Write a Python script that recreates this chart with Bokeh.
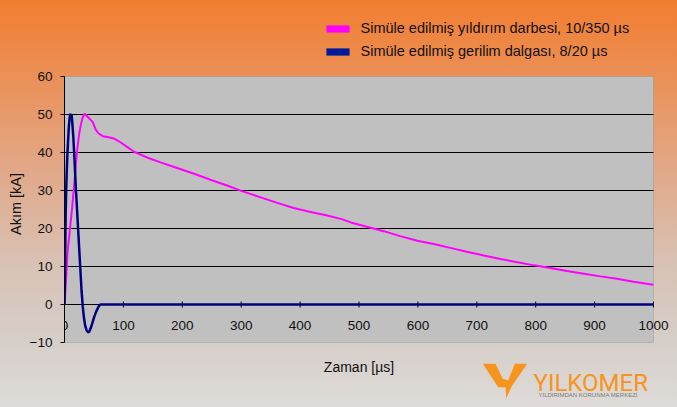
import math
from bokeh.plotting import figure
from bokeh.models import (Legend, LegendItem, Label, PolyAnnotation, BoxAnnotation,
                          FixedTicker, Range1d, Title)
from bokeh.core.properties import value
from bokeh.embed import file_html
from bokeh.resources import INLINE

# ---- data ----
t_10_350 = [0, 1, 3, 5, 8, 13, 17, 21, 25, 28, 31, 34, 38, 43, 48, 53, 58, 65, 75, 85, 95,
            105, 118, 140, 163, 190, 220, 250, 276, 300, 333, 360, 389, 420, 446, 472, 486,
            515, 542, 570, 599, 627, 655, 683, 712, 740, 769, 797, 825, 853, 882, 910, 938,
            966, 1000]
i_10_350 = [0, 2, 7.5, 13.5, 18, 25.5, 32.5, 40, 45, 47.5, 49.3, 50.2, 49.6, 48.8, 48, 46,
            45, 44.3, 44, 43.6, 42.7, 41.6, 40.2, 38.7, 37.4, 36, 34.4, 32.7, 31.3, 29.9,
            28.2, 26.8, 25.4, 24.3, 23.4, 22.4, 21.6, 20.4, 19.3, 18, 16.8, 15.9, 14.9, 13.9,
            12.9, 12, 11.1, 10.3, 9.6, 8.8, 8.1, 7.4, 6.8, 6, 5.2]

t_8_20 = [0, 1, 2, 3, 4.5, 6, 7.5, 9, 10, 11, 12, 13, 15, 17, 19.5, 22, 24.5, 27, 29, 31,
          33, 35, 37.5, 40, 42, 45, 48, 51, 54, 58, 61, 1000]
i_8_20 = [0, 10, 24, 31, 38, 43, 47, 49.5, 50.2, 49.5, 50, 48.4, 44, 38, 30, 23, 16, 9, 3.5,
          -0.5, -3.5, -5.5, -6.8, -7.3, -7.2, -6, -4.5, -3, -1.8, -0.5, 0, 0]

x_ticks = [0, 100, 200, 300, 400, 500, 600, 700, 800, 900, 1000]
x_tick_labels = ["0", "100", "200", "300", "400", "500", "600", "700", "800", "900", "1000"]
y_ticks = [-10, 0, 10, 20, 30, 40, 50, 60]
grid_ticks = [0, 10, 20, 30, 40, 50]
legend_labels = ["Simüle edilmiş yıldırım darbesi, 10/350 µs",
                 "Simüle edilmiş gerilim dalgası, 8/20 µs"]
x_title = "Zaman [µs]"
y_title = "Akım [kA]"
logo_title = "YILKOMER"
logo_sub = "YILDIRIMDAN KORUNMA MERKEZİ"

FONT = "Liberation Sans"
MAGENTA = "#FF00FF"
NAVY = "#000080"
ORANGE = "#F7941D"
TXT = "#111111"

W, H = 677, 407
LEFT = 64                      # y-axis panel width
PX_X = 589 / 1000.0            # px per µs
PX_Y = 38 / 10.0               # px per kA
ZERO_Y = 304                   # pixel row of 0 kA
y_top = ZERO_Y / PX_Y
y_bot = -(H - ZERO_Y) / PX_Y
x_end = (W - LEFT) / PX_X

p = figure(width=W, height=H, output_backend="svg", toolbar_location=None,
           x_range=Range1d(0, x_end), y_range=Range1d(y_bot, y_top),
           min_border_left=LEFT, min_border_right=0, min_border_top=0, min_border_bottom=0,
           background_fill_color=None, border_fill_color=None, outline_line_color=None)
p.margin = (0, 0, 0, 0)
p.styles = {"background": "linear-gradient(to bottom, #F27D30 0%, #EC8C4E 15%, #E2A685 40%, "
                          "#D8C2B5 65%, #D6CFCA 85%, #DEDBD8 100%)"}

# plot area
p.add_layout(BoxAnnotation(left=0, right=1000, bottom=-10, top=60, level="image",
                           fill_color="#C0C0C0", fill_alpha=1,
                           line_color="#808080", line_width=1))
p.xgrid.visible = False
p.ygrid.visible = False
p.segment(x0=[0] * len(grid_ticks), x1=[1000] * len(grid_ticks), y0=grid_ticks, y1=grid_ticks,
          line_color="black", line_width=1)

# y axis
p.yaxis.ticker = FixedTicker(ticks=y_ticks)
p.yaxis.bounds = (-10, 60)
p.yaxis.axis_line_color = "black"
p.yaxis.major_tick_line_color = "black"
p.yaxis.major_tick_out = 4
p.yaxis.major_tick_in = 0
p.yaxis.minor_tick_line_color = None
p.yaxis.major_label_standoff = 8
p.yaxis.major_label_text_font = FONT
p.yaxis.major_label_text_font_size = "13.5px"
p.yaxis.major_label_text_color = TXT
p.add_layout(Title(text=y_title, align="center", offset=-4.5, standoff=5,
                   text_font=FONT, text_font_size="14.5px", text_font_style="normal",
                   text_color=TXT), "left")

# x axis: drawn on the zero line
p.xaxis.visible = False
p.scatter(x=x_ticks, y=[0] * len(x_ticks), marker="dash", angle=math.pi / 2, size=6,
          line_color="black", line_width=1)
p.text(x=x_ticks, y=[0] * len(x_ticks), text=x_tick_labels, y_offset=21,
       text_align="center", text_baseline="middle", text_color=TXT,
       text_font=value(FONT), text_font_size="13.5px")
p.add_layout(Label(x=500, y=(ZERO_Y - 366) / PX_Y, text=x_title, text_align="center",
                   text_baseline="middle", text_font=FONT, text_font_size="14px",
                   text_color=TXT))

# series
p.line(t_10_350, i_10_350, line_color=MAGENTA, line_width=2)
p.line(t_8_20, i_8_20, line_color=NAVY, line_width=2.5)

# legend keys (filled blocks; zero-size quads at each series' first point)
k1 = p.quad(left=t_10_350[:1], right=t_10_350[:1], top=i_10_350[:1], bottom=i_10_350[:1],
            fill_color=MAGENTA, fill_alpha=1, line_color=None)
k2 = p.quad(left=t_8_20[:1], right=t_8_20[:1], top=i_8_20[:1], bottom=i_8_20[:1],
            fill_color="#001A99", fill_alpha=1, line_color=None)
legend = Legend(items=[LegendItem(label=legend_labels[0], renderers=[k1]),
                       LegendItem(label=legend_labels[1], renderers=[k2])],
                location=(322.5 - LEFT, H - 61), orientation="vertical",
                glyph_width=29, glyph_height=9, label_standoff=9, spacing=3,
                padding=0, margin=0, label_height=20,
                background_fill_alpha=0, border_line_color=None,
                label_text_font=FONT, label_text_font_size="14.5px",
                label_text_color=TXT)
p.add_layout(legend)

# logo
icon_x = [482.3, 495, 502.3, 507.7, 514.3, 526.7, 511.7, 505.7, 505, 497.7]
icon_y = [363.3, 363.3, 378.3, 380, 363.3, 363.3, 385, 397.7, 386.7, 386.7]
p.add_layout(PolyAnnotation(xs=[x - LEFT for x in icon_x], ys=[H - y for y in icon_y],
                            xs_units="screen", ys_units="screen",
                            fill_color=ORANGE, fill_alpha=1, line_color=None))
p.add_layout(Label(x=533 - LEFT, y=H - 382, x_units="screen", y_units="screen",
                   text=logo_title, text_font="Roboto", text_font_size="24px",
                   text_color=ORANGE, text_baseline="alphabetic"))
p.add_layout(Label(x=538 - LEFT, y=H - 394, x_units="screen", y_units="screen",
                   text=logo_sub, text_font=FONT, text_font_size="6px",
                   text_color="#7A7A7A", text_baseline="alphabetic"))

open("out.html", "w").write(file_html(p, INLINE))
